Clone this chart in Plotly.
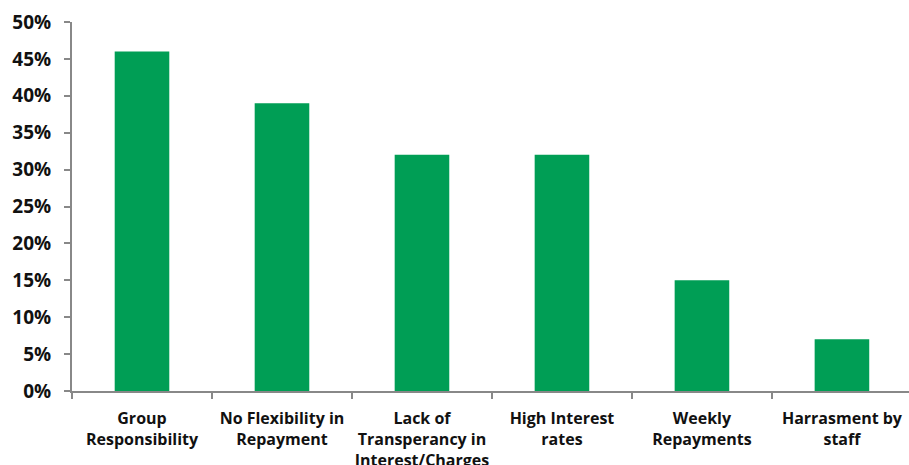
import plotly.graph_objects as go

categories = [
    "Group<br>Responsibility",
    "No Flexibility in<br>Repayment",
    "Lack of<br>Transperancy in<br>Interest/Charges",
    "High Interest<br>rates",
    "Weekly<br>Repayments",
    "Harrasment by<br>staff",
]
values = [0.46, 0.39, 0.32, 0.32, 0.15, 0.07]
y_ticks = [0, 0.05, 0.10, 0.15, 0.20, 0.25, 0.30, 0.35, 0.40, 0.45, 0.50]

fig = go.Figure(
    go.Bar(x=categories, y=values, marker=dict(color="#009E55", line=dict(width=0)), width=0.39)
)
axis_col = "#888888"
fig.update_layout(
    width=909, height=465,
    margin=dict(l=72, r=0, t=22, b=74),
    plot_bgcolor="white", paper_bgcolor="white",
    showlegend=False,
    font=dict(family="Open Sans", color="#111111"),
    xaxis=dict(
        type="category", range=[-0.5, 5.479], automargin=False,
        showline=True, linecolor=axis_col, linewidth=2,
        ticks="outside", tickson="boundaries", ticklen=6, tickcolor=axis_col, tickwidth=1.5,
        tickfont=dict(size=16, family="Open Sans", weight="bold"),
        ticklabelstandoff=12,
        tickangle=0, showgrid=False,
    ),
    yaxis=dict(
        range=[0, 0.5], tickvals=y_ticks, tickformat=".0%", automargin=False,
        showline=True, linecolor=axis_col, linewidth=2,
        ticks="outside", ticklen=6, tickcolor=axis_col, tickwidth=1.5,
        tickfont=dict(size=19, family="Open Sans", weight="bold"),
        ticklabelstandoff=9,
        showgrid=False, zeroline=False,
    ),
)
fig.write_html("out.html")
